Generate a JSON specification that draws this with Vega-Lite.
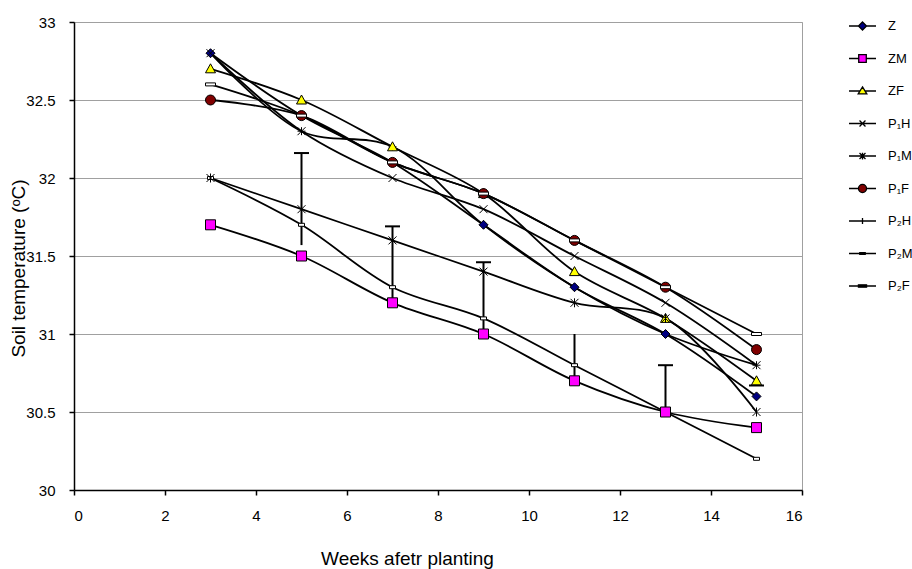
{
  "$schema": "https://vega.github.io/schema/vega-lite/v6.json",
  "width": 728,
  "height": 468,
  "autosize": {"type": "none"},
  "padding": {"left": 74, "top": 22, "right": 110, "bottom": 79},
  "background": "white",
  "config": {
    "font": "Liberation Sans",
    "view": {"stroke": "#a0a0a0", "strokeWidth": 1},
    "legend": {
      "orient": "none", "legendX": 774, "legendY": -10.5, "title": null, "padding": 0,
      "symbolSize": 729, "rowPadding": 10.5, "labelOffset": 11, "labelFontSize": 13, "labelColor": "black",
      "labelFont": "Liberation Sans", "symbolStrokeColor": "black", "symbolStrokeWidth": 1.3, "symbolOpacity": 1
    }
  },
  "resolve": {"scale": {"shape": "independent", "fill": "independent"}},
  "datasets": {
    "series": [
      {"series": "P2H", "week": 3, "temp": 32.8},
      {"series": "P2H", "week": 5, "temp": 32.3},
      {"series": "P2H", "week": 7, "temp": 32.2},
      {"series": "P2H", "week": 9, "temp": 31.7},
      {"series": "P2H", "week": 11, "temp": 31.3},
      {"series": "P2H", "week": 13, "temp": 31.0},
      {"series": "P2H", "week": 15, "temp": 30.8},
      {"series": "P2M", "week": 3, "temp": 32.0},
      {"series": "P2M", "week": 5, "temp": 31.7},
      {"series": "P2M", "week": 7, "temp": 31.3},
      {"series": "P2M", "week": 9, "temp": 31.1},
      {"series": "P2M", "week": 11, "temp": 30.8},
      {"series": "P2M", "week": 13, "temp": 30.5},
      {"series": "P2M", "week": 15, "temp": 30.2},
      {"series": "Z", "week": 3, "temp": 32.8},
      {"series": "Z", "week": 5, "temp": 32.4},
      {"series": "Z", "week": 7, "temp": 32.1},
      {"series": "Z", "week": 9, "temp": 31.7},
      {"series": "Z", "week": 11, "temp": 31.3},
      {"series": "Z", "week": 13, "temp": 31.0},
      {"series": "Z", "week": 15, "temp": 30.6},
      {"series": "ZM", "week": 3, "temp": 31.7},
      {"series": "ZM", "week": 5, "temp": 31.5},
      {"series": "ZM", "week": 7, "temp": 31.2},
      {"series": "ZM", "week": 9, "temp": 31.0},
      {"series": "ZM", "week": 11, "temp": 30.7},
      {"series": "ZM", "week": 13, "temp": 30.5},
      {"series": "ZM", "week": 15, "temp": 30.4},
      {"series": "ZF", "week": 3, "temp": 32.7},
      {"series": "ZF", "week": 5, "temp": 32.5},
      {"series": "ZF", "week": 7, "temp": 32.2},
      {"series": "ZF", "week": 9, "temp": 31.9},
      {"series": "ZF", "week": 11, "temp": 31.4},
      {"series": "ZF", "week": 13, "temp": 31.1},
      {"series": "ZF", "week": 15, "temp": 30.7},
      {"series": "P1H", "week": 3, "temp": 32.8},
      {"series": "P1H", "week": 5, "temp": 32.3},
      {"series": "P1H", "week": 7, "temp": 32.0},
      {"series": "P1H", "week": 9, "temp": 31.8},
      {"series": "P1H", "week": 11, "temp": 31.5},
      {"series": "P1H", "week": 13, "temp": 31.2},
      {"series": "P1H", "week": 15, "temp": 30.8},
      {"series": "P1M", "week": 3, "temp": 32.0},
      {"series": "P1M", "week": 5, "temp": 31.8},
      {"series": "P1M", "week": 7, "temp": 31.6},
      {"series": "P1M", "week": 9, "temp": 31.4},
      {"series": "P1M", "week": 11, "temp": 31.2},
      {"series": "P1M", "week": 13, "temp": 31.1},
      {"series": "P1M", "week": 15, "temp": 30.5},
      {"series": "P1F", "week": 3, "temp": 32.5},
      {"series": "P1F", "week": 5, "temp": 32.4},
      {"series": "P1F", "week": 7, "temp": 32.1},
      {"series": "P1F", "week": 9, "temp": 31.9},
      {"series": "P1F", "week": 11, "temp": 31.6},
      {"series": "P1F", "week": 13, "temp": 31.3},
      {"series": "P1F", "week": 15, "temp": 30.9},
      {"series": "P2F", "week": 3, "temp": 32.6},
      {"series": "P2F", "week": 5, "temp": 32.4},
      {"series": "P2F", "week": 7, "temp": 32.1},
      {"series": "P2F", "week": 9, "temp": 31.9},
      {"series": "P2F", "week": 11, "temp": 31.6},
      {"series": "P2F", "week": 13, "temp": 31.3},
      {"series": "P2F", "week": 15, "temp": 31.0}
    ],
    "errbars": [
      {"week": 5, "temp": 31.57, "temp2": 32.16},
      {"week": 7, "temp": 31.2, "temp2": 31.69},
      {"week": 9, "temp": 31.0, "temp2": 31.46},
      {"week": 11, "temp": 30.7, "temp2": 31.0},
      {"week": 13, "temp": 30.5, "temp2": 30.8}
    ],
    "caps": [
      {"week": 5, "temp": 32.16},
      {"week": 7, "temp": 31.69},
      {"week": 9, "temp": 31.46},
      {"week": 13, "temp": 30.8},
      {"week": 15, "temp": 30.67}
    ]
  },
  "layer": [
    {
      "data": {"name": "series"},
      "mark": {"type": "line", "interpolate": "catmull-rom", "color": "black", "strokeWidth": 1.8},
      "encoding": {
        "x": {
          "field": "week", "type": "quantitative", "title": "Weeks afetr planting",
          "scale": {"domain": [0, 16], "nice": false, "zero": false},
          "axis": {
            "values": [0, 2, 4, 6, 8, 10, 12, 14, 16], "format": "d", "grid": false,
            "domainColor": "black", "domainWidth": 1.5, "tickColor": "black", "tickWidth": 1.5, "tickSize": 5,
            "labelFontSize": 15, "labelColor": "black", "labelPadding": 13, "labelFont": "Liberation Sans",
            "titleFontSize": 19, "titleFontWeight": "normal", "titleColor": "black", "titleFont": "Liberation Sans",
            "titleX": 333, "titleY": 68, "titleAlign": "center", "titleBaseline": "middle", "titleAnchor": null
          }
        },
        "y": {
          "field": "temp", "type": "quantitative", "title": "Soil temperature (ᵒC)",
          "scale": {"domain": [30, 33], "nice": false, "zero": false},
          "axis": {
            "values": [30, 30.5, 31, 31.5, 32, 32.5, 33], "format": ".1~f", "grid": true, "gridColor": "#a0a0a0", "gridWidth": 1,
            "domainColor": "black", "domainWidth": 1.5, "tickColor": "black", "tickWidth": 1.5, "tickSize": 5,
            "labelFontSize": 15, "labelColor": "black", "labelPadding": 14, "labelFont": "Liberation Sans",
            "titleFontSize": 19, "titleFontWeight": "normal", "titleColor": "black", "titleFont": "Liberation Sans",
            "titleX": -56, "titleY": 246, "titleAlign": "center", "titleBaseline": "middle", "titleAngle": -90, "titleAnchor": null
          }
        },
        "detail": {"field": "series", "type": "nominal"}
      }
    },
    {
      "data": {"name": "errbars"},
      "mark": {"type": "rule", "color": "black", "strokeWidth": 2},
      "encoding": {
        "x": {"field": "week", "type": "quantitative", "title": "Weeks afetr planting", "scale": {"domain": [0, 16], "nice": false, "zero": false}},
        "y": {"field": "temp", "type": "quantitative", "title": "Soil temperature (ᵒC)", "scale": {"domain": [30, 33], "nice": false, "zero": false}},
        "y2": {"field": "temp2"}
      }
    },
    {
      "data": {"name": "caps"},
      "mark": {"type": "tick", "orient": "horizontal", "color": "black", "thickness": 2, "size": 15, "opacity": 1},
      "encoding": {
        "x": {"field": "week", "type": "quantitative", "title": "Weeks afetr planting", "scale": {"domain": [0, 16], "nice": false, "zero": false}},
        "y": {"field": "temp", "type": "quantitative", "title": "Soil temperature (ᵒC)", "scale": {"domain": [30, 33], "nice": false, "zero": false}}
      }
    },
    {
      "data": {"name": "series"},
      "mark": {"type": "point", "filled": true, "stroke": "black", "strokeWidth": 1, "opacity": 1, "size": 100},
      "encoding": {
        "x": {"field": "week", "type": "quantitative", "title": "Weeks afetr planting", "scale": {"domain": [0, 16], "nice": false, "zero": false}},
        "y": {"field": "temp", "type": "quantitative", "title": "Soil temperature (ᵒC)", "scale": {"domain": [30, 33], "nice": false, "zero": false}},
        "shape": {
          "field": "series", "type": "nominal", "legend": null,
          "scale": {
            "domain": ["Z", "ZM", "ZF", "P1H", "P1M", "P1F", "P2H", "P2M", "P2F"],
            "range": [
              "M0,-0.9L0.9,0L0,0.9L-0.9,0Z",
              "M-1,-1H1V1H-1Z",
              "M0,-1L1,0.8L-1,0.8Z",
              "M-0.8,-0.8L0.8,0.8M-0.8,0.8L0.8,-0.8",
              "M-0.8,-0.8L0.8,0.8M-0.8,0.8L0.8,-0.8M0,-0.9L0,0.9",
              "M1,0A1,1 0 1,1 -1,0A1,1 0 1,1 1,0Z",
              "M-0.8,0L0.8,0M0,-0.8L0,0.8",
              "M-0.6,-0.3H0.6V0.3H-0.6Z",
              "M-1,-0.3H1V0.3H-1Z"
            ]
          }
        },
        "fill": {
          "field": "series", "type": "nominal", "legend": null,
          "scale": {
            "domain": ["Z", "ZM", "ZF", "P1H", "P1M", "P1F", "P2H", "P2M", "P2F"],
            "range": ["#000080", "#FF00FF", "#FFFF00", "#000000", "#000000", "#800000", "#000000", "#FFFFFF", "#FFFFFF"]
          }
        }
      }
    },
    {
      "data": {"name": "series"},
      "mark": {"type": "point", "filled": true, "stroke": "black", "strokeWidth": 1, "opacity": 0, "size": 729},
      "encoding": {
        "x": {"field": "week", "type": "quantitative", "title": "Weeks afetr planting", "scale": {"domain": [0, 16], "nice": false, "zero": false}},
        "y": {"field": "temp", "type": "quantitative", "title": "Soil temperature (ᵒC)", "scale": {"domain": [30, 33], "nice": false, "zero": false}},
        "shape": {
          "field": "series", "type": "nominal",
          "scale": {
            "domain": ["Z", "ZM", "ZF", "P1H", "P1M", "P1F", "P2H", "P2M", "P2F"],
            "range": [
              "M-1,0H-0.3M0.3,0H1M0,-0.3L0.3,0L0,0.3L-0.3,0Z",
              "M-1,0H-0.28M0.28,0H1M-0.28,-0.28H0.28V0.28H-0.28Z",
              "M-1,0H-0.18M0.18,0H1M0,-0.3L0.32,0.22L-0.32,0.22Z",
              "M-1,0H1M-0.22,-0.22L0.22,0.22M-0.22,0.22L0.22,-0.22",
              "M-1,0H1M-0.22,-0.22L0.22,0.22M-0.22,0.22L0.22,-0.22M0,-0.25V0.25",
              "M-1,0H-0.3M0.3,0H1M0.3,0A0.3,0.3 0 1,1 -0.3,0A0.3,0.3 0 1,1 0.3,0Z",
              "M-1,0H1M0,-0.22V0.22",
              "M-1,0H1M-0.2,-0.07H0.2V0.07H-0.2Z",
              "M-1,0H1M-0.3,-0.09H0.3V0.09H-0.3Z"
            ]
          },
          "legend": {
            "labelExpr": "replace(replace(datum.label,'1','₁'),'2','₂')",
            "encode": {"symbols": {"update": {"stroke": {"value": "black"}, "strokeWidth": {"value": 1.3}}}}
          }
        },
        "fill": {
          "field": "series", "type": "nominal",
          "scale": {
            "domain": ["Z", "ZM", "ZF", "P1H", "P1M", "P1F", "P2H", "P2M", "P2F"],
            "range": ["#000080", "#FF00FF", "#FFFF00", "#000000", "#000000", "#800000", "#000000", "#000000", "#000000"]
          },
          "legend": {
            "labelExpr": "replace(replace(datum.label,'1','₁'),'2','₂')",
            "encode": {"symbols": {"update": {"stroke": {"value": "black"}, "strokeWidth": {"value": 1.3}}}}
          }
        }
      }
    }
  ]
}
